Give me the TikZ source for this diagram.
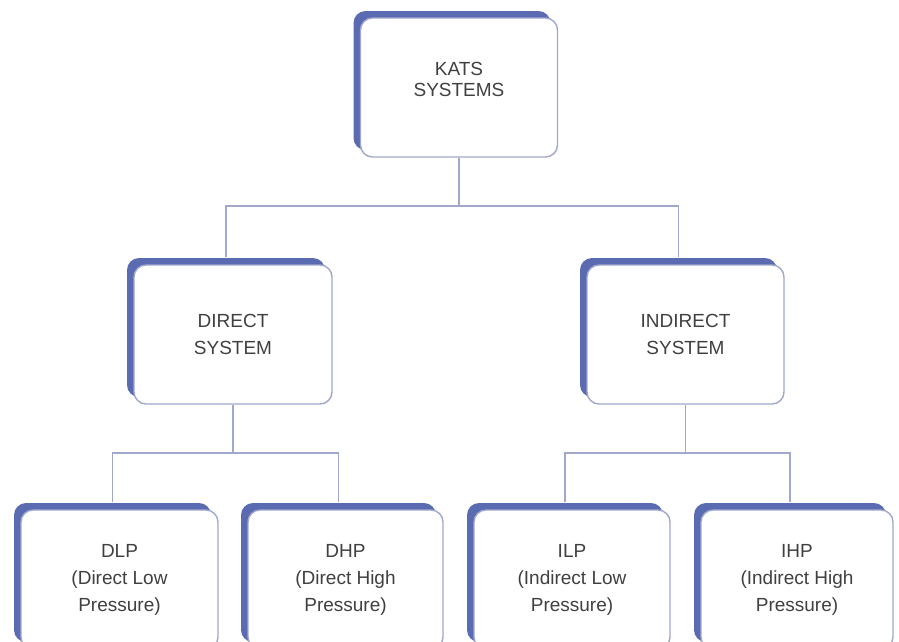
\documentclass[tikz,border=0pt]{standalone}
\usepackage{fontspec}
\setmainfont{Liberation Sans}
\usetikzlibrary{shadows}
\definecolor{katsblue}{HTML}{5A6BB2}
\definecolor{katsline}{HTML}{A2A8CB}
\definecolor{katstext}{HTML}{404040}
\tikzset{
  sysbox/.style={draw=katsline, line width=1.4pt, fill=white, rounded corners=12pt,
    minimum width=197pt, minimum height=139pt, inner sep=0pt, align=center,
    text=katstext, font=\fontsize{19}{27}\selectfont,
    general shadow={fill=katsblue, shadow xshift=-7pt, shadow yshift=7pt}},
  link/.style={draw=katsline, line width=1.4pt}
}
\begin{document}
\begin{tikzpicture}[x=1pt,y=-1pt]
    \useasboundingbox (0,0) rectangle (899,641);
    \node[sysbox, text depth=16pt, font=\fontsize{19}{21}\selectfont] (kats) at (459,87.5) {KATS\\SYSTEMS};
    \node[sysbox, minimum width=198pt] (direct) at (233,334.5) {DIRECT\\SYSTEM};
    \node[sysbox] (indirect) at (685.5,334.5) {INDIRECT\\SYSTEM};
    \node[sysbox] (dlp) at (119.5,579.5) {DLP\\(Direct Low\\Pressure)};
    \node[sysbox, minimum width=195pt] (dhp) at (345.5,579.5) {DHP\\(Direct High\\Pressure)};
    \node[sysbox, minimum width=196pt] (ilp) at (572,579.5) {ILP\\(Indirect Low\\Pressure)};
    \node[sysbox, minimum width=192pt] (ihp) at (797,579.5) {IHP\\(Indirect High\\Pressure)};
    \coordinate (kjoin) at (459,206);
    \coordinate (djoin) at (233,453);
    \coordinate (ijoin) at (685.5,453);
    \draw[link] (kats.south) -- (kjoin);
    \draw[link] ([xshift=-7pt,yshift=7pt]direct.north) |- (kjoin) -| ([xshift=-7pt,yshift=7pt]indirect.north);
    \draw[link] (direct.south) -- (djoin);
    \draw[link] ([xshift=-7pt,yshift=7pt]dlp.north) |- (djoin) -| ([xshift=-7pt,yshift=7pt]dhp.north);
    \draw[link] (indirect.south) -- (ijoin);
    \draw[link] ([xshift=-7pt,yshift=7pt]ilp.north) |- (ijoin) -| ([xshift=-7pt,yshift=7pt]ihp.north);
\end{tikzpicture}
\end{document}
